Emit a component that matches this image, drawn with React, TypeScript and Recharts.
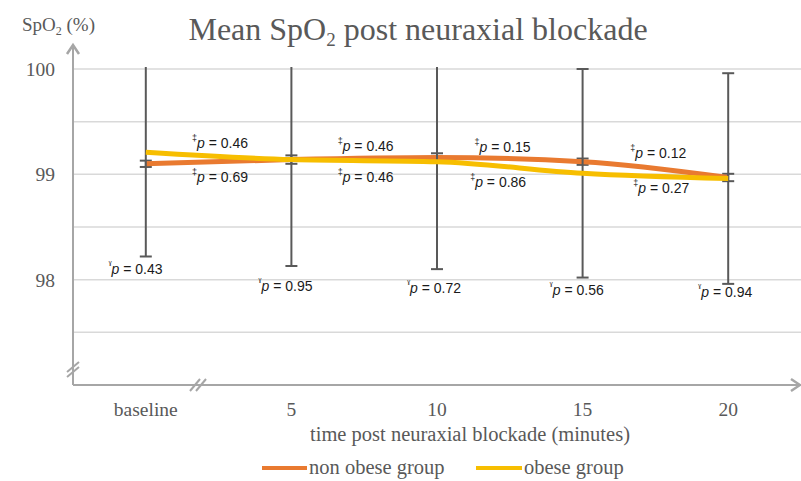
import { LineChart, Line, XAxis, YAxis, CartesianGrid, ErrorBar, ReferenceDot } from 'recharts';

const timePoints = ['baseline', '5', '10', '15', '20'];
const nonObeseMean = [99.1, 99.14, 99.16, 99.12, 98.97];
const obeseMean = [99.21, 99.14, 99.12, 99.01, 98.96];
const nonObeseSd = [0.03, 0.04, 0.04, 0.03, 0.035];
const obeseSd = [0.99, 1.01, 1.02, 0.99, 1.0];

const yTicks = [97.5, 98, 98.5, 99, 99.5, 100];

// p values printed on the plot
const pUpper = ['0.46', '0.46', '0.15', '0.12'];
const pLower = ['0.69', '0.46', '0.86', '0.27'];
const pGroup = ['0.43', '0.95', '0.72', '0.56', '0.94'];

// where each p value sits, in data units (x = time index, y = SpO2)
const pUpperAt = [[0.51, 99.3], [1.51, 99.27], [2.45, 99.26], [3.52, 99.2]];
const pLowerAt = [[0.51, 98.97], [1.51, 98.97], [2.42, 98.93], [3.54, 98.87]];
const pGroupAt = [[-0.07, 98.1], [0.96, 97.94], [1.98, 97.92], [2.96, 97.9], [3.98, 97.88]];

const ORANGE = '#E97A30';
const YELLOW = '#F7BE00';
const GREY = '#595959';
const AXIS = '#A6A6A6';
const SERIF = '"Liberation Serif", "Times New Roman", serif';

const rows = timePoints.map((_, i) => ({
  t: i,
  nonObese: nonObeseMean[i],
  obese: obeseMean[i],
  nonObeseErr: nonObeseSd[i],
  obeseErr: obeseSd[i],
}));

const pText = (mark: string, value: string) => (props: any) => (
  <text
    x={props.cx}
    y={props.cy}
    textAnchor="middle"
    dominantBaseline="central"
    fontFamily='"Liberation Sans", Arial, sans-serif'
    fontSize={14}
    fill="#1a1a1a"
  >
    <tspan fontSize={9} dy={-5}>{mark}</tspan>
    <tspan fontStyle="italic" dy={5}>p</tspan>
    <tspan>{` = ${value}`}</tspan>
  </text>
);

export default function App() {
  return (
    <div style={{ position: 'absolute', left: 0, top: 0, width: 801, height: 481, background: '#fff' }}>
      {/* error bars are cut off at the top of the plot, like the original */}
      <style>{`.recharts-errorBars { clip-path: url(#plotClip); }`}</style>
      <svg width={0} height={0} style={{ position: 'absolute' }}>
        <defs>
          <clipPath id="plotClip" clipPathUnits="userSpaceOnUse">
            <rect x={0} y={67} width={801} height={330} />
          </clipPath>
        </defs>
      </svg>
      <LineChart width={801} height={481} data={rows} margin={{ top: 69, right: 0, bottom: 66, left: 0 }}>
        <CartesianGrid vertical={false} stroke="#D9D9D9" strokeWidth={1.5} />
        <XAxis
          dataKey="t"
          type="number"
          domain={[-0.5, 4.5]}
          ticks={[0, 1, 2, 3, 4]}
          tickFormatter={(v: number) => timePoints[v]}
          height={30}
          axisLine={{ stroke: AXIS, strokeWidth: 2 }}
          tickLine={false}
          tickSize={0}
          tickMargin={17}
          tick={{ fontSize: 19.5, fill: GREY, fontFamily: SERIF }}
        />
        <YAxis
          type="number"
          domain={[97, 100]}
          ticks={yTicks}
          allowDataOverflow
          width={73}
          tickFormatter={(v: number) => (Number.isInteger(v) ? String(v) : '')}
          axisLine={{ stroke: AXIS, strokeWidth: 2 }}
          tickLine={false}
          tickSize={0}
          tickMargin={18}
          tick={{ fontSize: 19.5, fill: GREY, fontFamily: SERIF }}
        />
        <Line
          type="monotone"
          dataKey="nonObese"
          name="non obese group"
          stroke={ORANGE}
          strokeWidth={5}
          dot={false}
          isAnimationActive={false}
        >
          <ErrorBar dataKey="nonObeseErr" direction="y" stroke={GREY} strokeWidth={2} width={6} />
        </Line>
        <Line
          type="monotone"
          dataKey="obese"
          name="obese group"
          stroke={YELLOW}
          strokeWidth={5}
          dot={false}
          isAnimationActive={false}
        >
          <ErrorBar dataKey="obeseErr" direction="y" stroke={GREY} strokeWidth={2} width={6} />
        </Line>
        {pUpper.map((v, i) => (
          <ReferenceDot key={'u' + i} x={pUpperAt[i][0]} y={pUpperAt[i][1]} r={0} shape={pText('‡', v)} />
        ))}
        {pLower.map((v, i) => (
          <ReferenceDot key={'l' + i} x={pLowerAt[i][0]} y={pLowerAt[i][1]} r={0} shape={pText('‡', v)} />
        ))}
        {pGroup.map((v, i) => (
          <ReferenceDot key={'g' + i} x={pGroupAt[i][0]} y={pGroupAt[i][1]} r={0} shape={pText('ˠ', v)} />
        ))}
      </LineChart>

      <svg
        width={801}
        height={481}
        style={{ position: 'absolute', left: 0, top: 0, pointerEvents: 'none' }}
      >
        <text x={418} y={40} textAnchor="middle" fontFamily={SERIF} fontSize={32} fill={GREY}>
          Mean SpO<tspan fontSize={19} dy={6}>2</tspan>
          <tspan dy={-6}> post neuraxial blockade</tspan>
        </text>
        <text x={22} y={31} fontFamily={SERIF} fontSize={19} fill={GREY}>
          SpO<tspan fontSize={12} dy={4}>2</tspan>
          <tspan dy={-4}> (%)</tspan>
        </text>

        {/* axis arrows */}
        <line x1={73} y1={70} x2={73} y2={46} stroke={AXIS} strokeWidth={2} />
        <polyline points="67,54 73,45 79,54" fill="none" stroke={AXIS} strokeWidth={2.5} />
        <polyline points="791,379 800,385 791,391" fill="none" stroke={AXIS} strokeWidth={2.5} />

        {/* axis breaks */}
        <line x1={67} y1={372} x2={79} y2={362} stroke={AXIS} strokeWidth={2} />
        <line x1={67} y1={377} x2={79} y2={367} stroke={AXIS} strokeWidth={2} />
        <line x1={190} y1={391} x2={200} y2={379} stroke={AXIS} strokeWidth={2} />
        <line x1={196} y1={391} x2={206} y2={379} stroke={AXIS} strokeWidth={2} />

        <text x={470} y={441} textAnchor="middle" fontFamily={SERIF} fontSize={20.5} fill={GREY}>
          time post neuraxial blockade (minutes)
        </text>

        {/* legend */}
        <line x1={262} y1={468} x2={307} y2={468} stroke={ORANGE} strokeWidth={4} />
        <text x={309} y={474} fontFamily={SERIF} fontSize={20.5} fill={GREY}>non obese group</text>
        <line x1={476} y1={468} x2={522} y2={468} stroke={YELLOW} strokeWidth={4} />
        <text x={524} y={474} fontFamily={SERIF} fontSize={20.5} fill={GREY}>obese group</text>
      </svg>
    </div>
  );
}
